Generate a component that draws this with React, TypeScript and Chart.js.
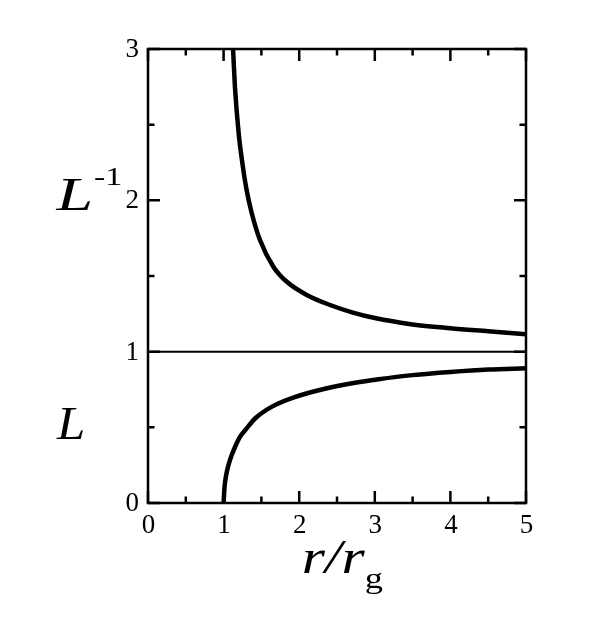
import React, { useEffect, useRef } from "react";
import { Chart, registerables } from "chart.js";

Chart.register(...registerables);

// r / r_g values and L^-1 values (upper curve)
const upperR = [1.125, 1.15, 1.2, 1.25, 1.3, 1.37, 1.48, 1.66, 1.84, 2.1, 2.4, 2.7, 3.0, 3.5, 4.0, 4.5, 5.0];
const upperY = [3.0, 2.75, 2.44, 2.24, 2.08, 1.92, 1.74, 1.56, 1.46, 1.375, 1.31, 1.26, 1.222, 1.18, 1.155, 1.135, 1.115];

// r / r_g values and L values (lower curve)
const lowerR = [1.0, 1.01, 1.02, 1.04, 1.07, 1.11, 1.16, 1.22, 1.3, 1.42, 1.64, 1.94, 2.34, 2.74, 3.05, 3.5, 4.0, 4.5, 5.0];
const lowerY = [0, 0.09, 0.14, 0.2, 0.26, 0.32, 0.38, 0.44, 0.49, 0.56, 0.637, 0.7, 0.755, 0.795, 0.818, 0.845, 0.866, 0.882, 0.89];

// reference line L = 1
const refR = [0, 5];
const refY = [1, 1];

// tick labels
const xTickLabels = ["0", "1", "2", "3", "4", "5"];
const yTickLabels = ["0", "1", "2", "3"];

const xMin = 0;
const xMax = 5;
const yMin = 0;
const yMax = 3;
const majorStep = 1;
const minorStep = 0.5;

const SERIF = '"Liberation Serif", "Times New Roman", serif';
const TICK_FONT = `27px ${SERIF}`;

const toPoints = (xs: number[], ys: number[]) => xs.map((x, i) => ({ x, y: ys[i] }));

// draw text so its ink spans [x0, x1] horizontally, at the given baseline
function drawInk(ctx: CanvasRenderingContext2D, text: string, font: string, x0: number, x1: number, baseline: number) {
  ctx.save();
  ctx.font = font;
  ctx.textAlign = "left";
  ctx.textBaseline = "alphabetic";
  const m = ctx.measureText(text);
  const left = -(m.actualBoundingBoxLeft || 0);
  const right = m.actualBoundingBoxRight || m.width;
  const inkW = Math.max(1, right - left);
  const sx = (x1 - x0) / inkW;
  ctx.translate(x0, baseline);
  ctx.scale(sx, 1);
  ctx.fillText(text, -left, 0);
  ctx.restore();
}

const framePlugin = {
  id: "frameTicks",
  afterDatasetsDraw(chart: any) {
    const { ctx, chartArea: a, scales } = chart;
    const xs = scales.x;
    const ys = scales.y;
    ctx.save();
    ctx.strokeStyle = "#000";
    ctx.lineWidth = 2.5;
    ctx.strokeRect(a.left, a.top, a.right - a.left, a.bottom - a.top);
    ctx.beginPath();
    for (let v = xMin; v <= xMax + 1e-9; v += minorStep) {
      const isMajor = Math.abs(v / majorStep - Math.round(v / majorStep)) < 1e-6;
      const len = isMajor ? 12 : 6.5;
      const px = xs.getPixelForValue(v);
      ctx.moveTo(px, a.bottom);
      ctx.lineTo(px, a.bottom - len);
      ctx.moveTo(px, a.top);
      ctx.lineTo(px, a.top + len);
    }
    for (let v = yMin; v <= yMax + 1e-9; v += minorStep) {
      const isMajor = Math.abs(v / majorStep - Math.round(v / majorStep)) < 1e-6;
      const len = isMajor ? 12 : 6.5;
      const py = ys.getPixelForValue(v);
      ctx.moveTo(a.left, py);
      ctx.lineTo(a.left + len, py);
      ctx.moveTo(a.right, py);
      ctx.lineTo(a.right - len, py);
    }
    ctx.stroke();

    // tick labels
    ctx.fillStyle = "#000";
    ctx.font = TICK_FONT;
    ctx.textBaseline = "alphabetic";
    ctx.textAlign = "center";
    xs.ticks.forEach((t: any, i: number) => {
      const px = xs.getPixelForValue(t.value);
      ctx.fillText(xTickLabels[i] ?? String(t.value), px + 0.5, a.bottom + 30);
    });
    ctx.textAlign = "right";
    ys.ticks.forEach((t: any, i: number) => {
      const py = ys.getPixelForValue(t.value);
      ctx.fillText(yTickLabels[i] ?? String(t.value), a.left - 9, py + 8);
    });
    ctx.restore();
  },
  afterDraw(chart: any) {
    const { ctx } = chart;
    ctx.save();
    ctx.fillStyle = "#000";
    drawInk(ctx, "L", `italic 47px ${SERIF}`, 55, 90, 210);
    drawInk(ctx, "-1", `26px ${SERIF}`, 94, 121, 185);
    drawInk(ctx, "L", `italic 47px ${SERIF}`, 56, 83, 439);
    drawInk(ctx, "r/r", `italic 48px ${SERIF}`, 303, 365, 573);
    drawInk(ctx, "g", `30px ${SERIF}`, 366, 383, 588);
    ctx.restore();
  },
};

export default function App() {
  const ref = useRef<HTMLCanvasElement | null>(null);
  useEffect(() => {
    if (!ref.current) return;
    const chart = new Chart(ref.current, {
      type: "line",
      data: {
        datasets: [
          {
            data: toPoints(refR, refY),
            borderColor: "#000",
            borderWidth: 2,
            pointRadius: 0,
            tension: 0,
          },
          {
            data: toPoints(upperR, upperY),
            borderColor: "#000",
            borderWidth: 4.5,
            pointRadius: 0,
            cubicInterpolationMode: "monotone",
          },
          {
            data: toPoints(lowerR, lowerY),
            borderColor: "#000",
            borderWidth: 4.5,
            pointRadius: 0,
            cubicInterpolationMode: "monotone",
          },
        ],
      },
      options: {
        animation: false,
        responsive: false,
        devicePixelRatio: 1,
        layout: { padding: { left: 0, top: 49, right: 89, bottom: 0 } },
        plugins: { legend: { display: false }, tooltip: { enabled: false } },
        scales: {
          x: {
            type: "linear",
            min: xMin,
            max: xMax,
            grid: { display: false },
            border: { display: false },
            ticks: { stepSize: majorStep, display: false },
            afterFit(s: any) {
              s.height = 124;
            },
          },
          y: {
            type: "linear",
            min: yMin,
            max: yMax,
            grid: { display: false },
            border: { display: false },
            ticks: { stepSize: majorStep, display: false },
            afterFit(s: any) {
              s.width = 148;
            },
          },
        },
      },
      plugins: [framePlugin],
    } as any);
    let alive = true;
    const fonts: any = (document as any).fonts;
    if (fonts && fonts.load) {
      Promise.all([
        fonts.load(`27px "Liberation Serif"`),
        fonts.load(`italic 47px "Liberation Serif"`),
      ])
        .then(() => {
          if (alive) chart.update();
        })
        .catch(() => {});
    }
    return () => {
      alive = false;
      chart.destroy();
    };
  }, []);
  return (
    <div style={{ position: "fixed", left: 0, top: 0, width: 615, height: 627, background: "#fff" }}>
      <canvas ref={ref} width={615} height={627} />
    </div>
  );
}
